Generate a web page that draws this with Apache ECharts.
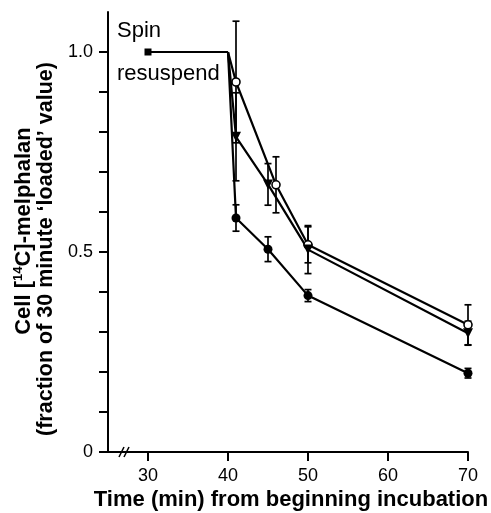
<!DOCTYPE html>
<html>
<head>
<meta charset="utf-8">
<script src="https://cdn.jsdelivr.net/npm/echarts@6/dist/echarts.min.js"></script>
<style>
  html, body { margin: 0; padding: 0; background: #fff; }
  #chart { width: 491px; height: 513px; }
</style>
</head>
<body>
<div id="chart"></div>
<script>
// 数据（时间：分钟；值：30分钟负载值的分数）
var spinTimes = [30, 40];
var spinVals = [1.0, 1.0];

var openTimes = [40, 41, 46, 50, 70];
var openVals = [1.0, 0.925, 0.668, 0.518, 0.318];
var openErr = [0, 0.152, 0.07, 0.045, 0.05];

var triTimes = [40, 41, 45, 50, 70];
var triVals = [1.0, 0.788, 0.669, 0.506, 0.297];
var triErr = [0, 0.11, 0.052, 0.06, 0.03];

var fillTimes = [40, 41, 45, 50, 70];
var fillVals = [1.0, 0.585, 0.507, 0.391, 0.197];
var fillErr = [0, 0.033, 0.031, 0.015, 0.012];

var xTicks = [30, 40, 50, 60, 70];
var yLabels = [0, 0.5, 1.0];

function points(ts, vs) {
    return ts.map(function (t, i) {
        var p = { value: [t, vs[i]] };
        if (i === 0) p.symbol = 'none';
        return p;
    });
}
function errPoints(ts, vs, es) {
    var out = [];
    ts.forEach(function (t, i) {
        if (es[i] > 0) out.push([t, vs[i], es[i]]);
    });
    return out;
}
function renderErr(params, api) {
    var x = api.value(0), y = api.value(1), e = api.value(2);
    var hi = api.coord([x, y + e]), lo = api.coord([x, y - e]);
    var w = 3.5;
    var st = { stroke: '#000', lineWidth: 1.7 };
    return {
        type: 'group',
        children: [
            { type: 'line', shape: { x1: hi[0], y1: hi[1], x2: lo[0], y2: lo[1] }, style: st },
            { type: 'line', shape: { x1: hi[0] - w, y1: hi[1], x2: hi[0] + w, y2: hi[1] }, style: st },
            { type: 'line', shape: { x1: lo[0] - w, y1: lo[1], x2: lo[0] + w, y2: lo[1] }, style: st }
        ]
    };
}
function errSeries(data) {
    return {
        type: 'custom',
        renderItem: renderErr,
        data: data,
        encode: { x: 0, y: 1 },
        z: 1,
        silent: true
    };
}

var myChart = echarts.init(document.getElementById('chart'));

var lineStyle = { color: '#000', width: 2.2 };

var option = {
    animation: false,
    backgroundColor: '#fff',
    grid: { left: 108, right: 23, top: 12, bottom: 61 },
    xAxis: {
        type: 'value',
        min: 25,
        max: 70,
        splitLine: { show: false },
        axisLine: { lineStyle: { color: '#000', width: 2 } },
        axisTick: { length: 9, customValues: xTicks, lineStyle: { color: '#000', width: 2 } },
        axisLabel: {
            customValues: xTicks,
            margin: 15,
            color: '#000',
            fontSize: 18,
            fontFamily: 'Liberation Sans'
        }
    },
    yAxis: {
        type: 'value',
        min: 0,
        max: 1.1,
        interval: 0.1,
        splitLine: { show: false },
        axisLine: { lineStyle: { color: '#000', width: 2 } },
        axisTick: { length: 9, lineStyle: { color: '#000', width: 2 } },
        axisLabel: {
            margin: 15,
            color: '#000',
            fontSize: 18,
            fontFamily: 'Liberation Sans',
            showMaxLabel: false,
            formatter: function (v) {
                for (var i = 0; i < yLabels.length; i++) {
                    if (Math.abs(v - yLabels[i]) < 1e-6) return yLabels[i] === 0 ? '0' : yLabels[i].toFixed(1);
                }
                return '';
            }
        }
    },
    graphic: [
        { type: 'line', shape: { x1: 119, y1: 457, x2: 124, y2: 447 }, style: { stroke: '#000', lineWidth: 1.5 }, z: 100 },
        { type: 'line', shape: { x1: 124, y1: 457, x2: 129, y2: 447 }, style: { stroke: '#000', lineWidth: 1.5 }, z: 100 },
        {
            type: 'text', x: 117, y: 31,
            style: { text: 'Spin', fontSize: 22, fontFamily: 'Liberation Sans', fill: '#000', align: 'left', verticalAlign: 'middle' }
        },
        {
            type: 'text', x: 117, y: 74,
            style: { text: 'resuspend', fontSize: 22, fontFamily: 'Liberation Sans', fill: '#000', align: 'left', verticalAlign: 'middle' }
        },
        {
            type: 'text', x: 291, y: 500,
            style: {
                text: 'Time (min) from beginning incubation',
                fontSize: 22, fontWeight: 'bold', fontFamily: 'Liberation Sans', fill: '#000',
                align: 'center', verticalAlign: 'middle'
            }
        },
        {
            type: 'text', x: 24, y: 231, rotation: Math.PI / 2,
            style: {
                text: '{b|Cell [}{s|14}{b|C]-melphalan}',
                align: 'center', verticalAlign: 'middle',
                rich: {
                    b: { fontSize: 22, fontWeight: 'bold', fontFamily: 'Liberation Sans', fill: '#000', lineHeight: 24 },
                    s: { fontSize: 13, fontWeight: 'bold', fontFamily: 'Liberation Sans', fill: '#000', verticalAlign: 'top', lineHeight: 24 }
                }
            }
        },
        {
            type: 'text', x: 46, y: 249, rotation: Math.PI / 2,
            style: {
                text: '(fraction of 30 minute \u2018loaded\u2019 value)',
                fontSize: 21.5, fontWeight: 'bold', fontFamily: 'Liberation Sans', fill: '#000',
                align: 'center', verticalAlign: 'middle'
            }
        }
    ],
    series: [
        errSeries(errPoints(openTimes, openVals, openErr)),
        errSeries(errPoints(triTimes, triVals, triErr)),
        errSeries(errPoints(fillTimes, fillVals, fillErr)),
        {
            name: 'spin',
            type: 'line',
            data: spinTimes.map(function (t, i) {
                var p = { value: [t, spinVals[i]] };
                if (i > 0) p.symbol = 'none';
                return p;
            }),
            symbol: 'rect',
            symbolSize: 7,
            itemStyle: { color: '#000' },
            lineStyle: lineStyle,
            z: 3
        },
        {
            name: 'open',
            type: 'line',
            data: points(openTimes, openVals),
            symbol: 'circle',
            symbolSize: 8,
            itemStyle: { color: '#fff', borderColor: '#000', borderWidth: 1.6 },
            lineStyle: lineStyle,
            z: 3
        },
        {
            name: 'triangle',
            type: 'line',
            data: points(triTimes, triVals),
            symbol: 'triangle',
            symbolRotate: 180,
            symbolSize: 10,
            itemStyle: { color: '#000' },
            lineStyle: lineStyle,
            z: 3
        },
        {
            name: 'filled',
            type: 'line',
            data: points(fillTimes, fillVals),
            symbol: 'circle',
            symbolSize: 9,
            itemStyle: { color: '#000' },
            lineStyle: lineStyle,
            z: 3
        }
    ]
};

myChart.setOption(option);
</script>
</body>
</html>
